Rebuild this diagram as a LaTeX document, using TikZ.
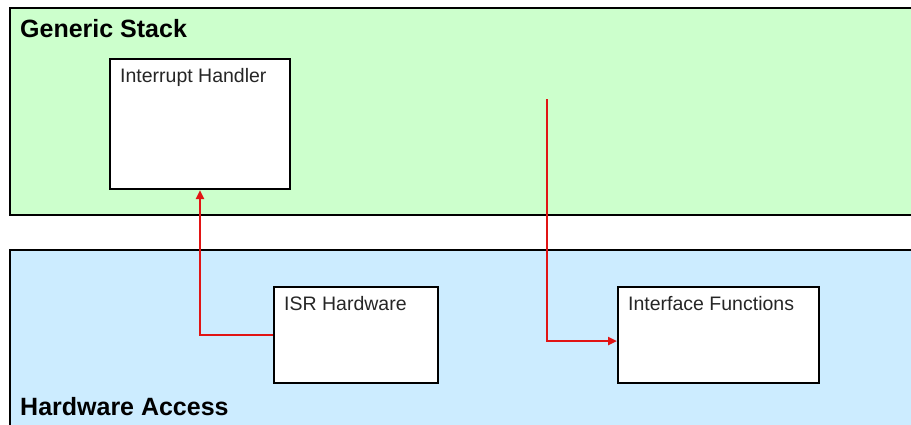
\documentclass[tikz,border=0pt]{standalone}
\usepackage{fontspec}
\setmainfont{Liberation Sans}
\usetikzlibrary{arrows.meta}
\definecolor{panelgreen}{RGB}{204,255,204}
\definecolor{panelblue}{RGB}{204,236,255}
\definecolor{arrred}{RGB}{225,20,20}
\begin{document}
\begin{tikzpicture}[x=1pt,y=-1pt,
  panel/.style={draw=black,line width=2.5pt,rectangle,inner sep=0pt},
  box/.style={draw=black,line width=2pt,fill=white,rectangle,inner sep=0pt},
  lbl/.style={anchor=north west,inner sep=0pt,font=\fontsize{19.5}{21}\selectfont,text=black!85},
  title/.style={anchor=base west,inner sep=0pt,font=\fontsize{25}{27}\selectfont\bfseries},
  arr/.style={draw=arrred,line width=2.8pt,-{Triangle[length=9pt,width=8pt]}}]
\clip (0,0) rectangle (911,424);
\fill[white] (0,0) rectangle (911,424);
% panels
\filldraw[panel,fill=panelgreen] (10,8) rectangle (940,215);
\filldraw[panel,fill=panelblue] (10,250) rectangle (940,450);
\node[title] (gs) at (20,37) {Generic Stack};
\node[title] (ha) at (20,415) {Hardware Access};
% boxes
\node[box,minimum width=180pt,minimum height=130pt] (ih) at (200,124) {};
\node[lbl] (ihl) at ([xshift=11pt,yshift=-10pt]ih.north west) {Interrupt Handler};
\node[box,minimum width=164pt,minimum height=96pt] (isr) at (356,335) {};
\node[lbl] (isrl) at ([xshift=11pt,yshift=-10pt]isr.north west) {ISR Hardware};
\node[box,minimum width=201pt,minimum height=96pt] (if) at (718.5,335) {};
\node[lbl] (ifl) at ([xshift=11pt,yshift=-10pt]if.north west) {Interface Functions};
% connectors
\draw[arr] (isr.west) -| (ih.south);
\coordinate (src) at (547,99);
\draw[arr] (src) |- ([yshift=-6pt]if.west);
\end{tikzpicture}
\end{document}
